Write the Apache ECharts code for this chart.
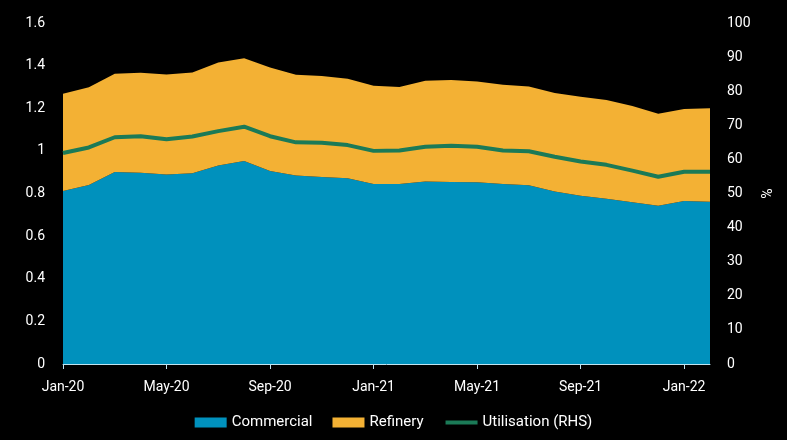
<!DOCTYPE html>
<html><head><meta charset="utf-8">
<script src="https://cdn.jsdelivr.net/npm/echarts@6/dist/echarts.min.js"></script>
<style>html,body{margin:0;padding:0;background:#000;}#c{width:787px;height:440px;}</style>
</head><body><div id="c"></div>
<script>
var months = ['Jan-20','Feb-20','Mar-20','Apr-20','May-20','Jun-20','Jul-20','Aug-20','Sep-20','Oct-20','Nov-20','Dec-20',
  'Jan-21','Feb-21','Mar-21','Apr-21','May-21','Jun-21','Jul-21','Aug-21','Sep-21','Oct-21','Nov-21','Dec-21','Jan-22','Feb-22'];
var commercial = [0.812,0.840,0.901,0.897,0.889,0.895,0.931,0.953,0.906,0.884,0.878,0.872,
  0.844,0.845,0.856,0.854,0.853,0.844,0.839,0.809,0.790,0.775,0.759,0.742,0.765,0.761];
var total = [1.268,1.299,1.362,1.366,1.358,1.368,1.415,1.435,1.391,1.357,1.351,1.338,
  1.305,1.300,1.329,1.332,1.326,1.310,1.302,1.271,1.254,1.239,1.211,1.174,1.196,1.200];
var utilisation = [61.9,63.5,66.5,66.8,65.9,66.7,68.3,69.6,66.8,65.0,64.9,64.2,
  62.5,62.6,63.7,64.0,63.7,62.6,62.4,60.8,59.4,58.4,56.7,54.9,56.4,56.4];
var refinery = total.map(function(t,i){return +(t - commercial[i]).toFixed(3);});

var txt = '#ffffff';
var font = 'Roboto';
var chart = echarts.init(document.getElementById('c'));
chart.setOption({
  backgroundColor: '#000000',
  animation: false,
  textStyle: {fontFamily: font},
  grid: {left: 63, right: 77, top: 23, bottom: 76},
  legend: {
    bottom: 5, left: 'center', itemWidth: 32, itemHeight: 10, itemGap: 20,
    textStyle: {color: txt, fontSize: 15, fontFamily: font},
    data: [
      {name: 'Commercial', icon: 'rect'},
      {name: 'Refinery', icon: 'rect'},
      {name: 'Utilisation (RHS)', itemStyle: {opacity: 0}, lineStyle: {width: 4, color: '#1b7a57'}}
    ]
  },
  xAxis: {
    type: 'category', data: months, boundaryGap: false,
    axisLine: {lineStyle: {color: '#bfe3f0', width: 1}},
    axisTick: {interval: 3, length: 5, lineStyle: {color: '#bfe3f0'}},
    axisLabel: {interval: 3, color: txt, fontSize: 14, margin: 16, fontFamily: font},
    splitLine: {show: false}
  },
  yAxis: [
    {type: 'value', min: 0, max: 1.6, interval: 0.2,
     axisLine: {show: false}, axisTick: {show: false}, splitLine: {show: false},
     axisLabel: {color: txt, fontSize: 14, margin: 18, fontFamily: font,
       formatter: function(v){return String(+v.toFixed(1));}}},
    {type: 'value', min: 0, max: 100, interval: 10, position: 'right',
     name: '%', nameLocation: 'middle', nameGap: 50, nameRotate: 90,
     nameTextStyle: {color: txt, fontSize: 14, fontFamily: font},
     axisLine: {show: false}, axisTick: {show: false}, splitLine: {show: false},
     axisLabel: {color: txt, fontSize: 14, margin: 17, fontFamily: font}}
  ],
  series: [
    {name: 'Commercial', type: 'line', stack: 'a', data: commercial, symbol: 'none',
     lineStyle: {width: 0}, areaStyle: {color: '#0091bd', opacity: 1}, itemStyle: {color: '#0091bd'}},
    {name: 'Refinery', type: 'line', stack: 'a', data: refinery, symbol: 'none',
     lineStyle: {width: 0}, areaStyle: {color: '#f3b134', opacity: 1}, itemStyle: {color: '#f3b134'}},
    {name: 'Utilisation (RHS)', type: 'line', yAxisIndex: 1, data: utilisation, symbol: 'none',
     lineStyle: {width: 4, color: '#1b7a57'}, itemStyle: {color: '#1b7a57'}}
  ]
});
</script></body></html>
